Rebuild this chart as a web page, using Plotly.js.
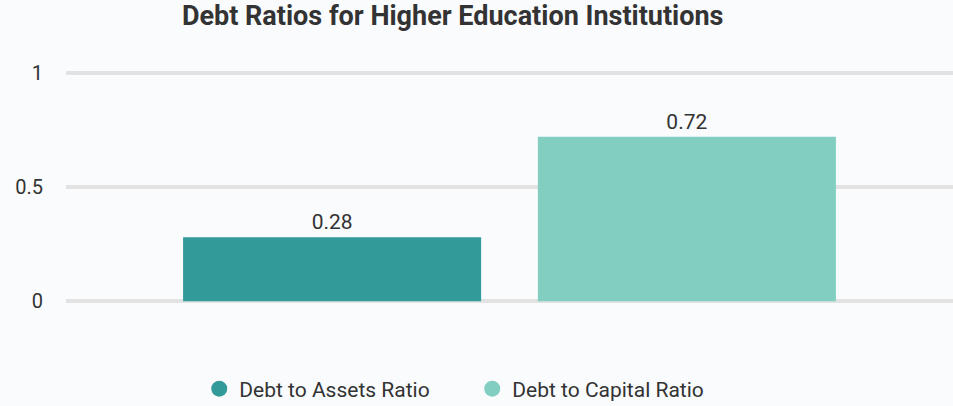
<!DOCTYPE html>
<html>
<head>
<meta charset="utf-8">
<script src="https://cdn.plot.ly/plotly-3.0.1.min.js"></script>
<style>
  body { margin: 0; background: #f9fbfd; }
  #chart { width: 953px; height: 406px; }
</style>
</head>
<body>
<div id="chart"></div>
<script>
// dados
const categorias = ["Institutions"];
const series = ["Debt to Assets Ratio", "Debt to Capital Ratio"];
const valores = [0.28, 0.72];
const cores = ["#339a9a", "#82cec1"];
const tickVals = [0, 0.5, 1];
const tickText = ["0", "0.5", "1"];

// barras (sem legenda, a legenda usa círculos)
const barras = series.map((nome, i) => ({
  type: "bar",
  x: categorias,
  y: [valores[i]],
  name: nome,
  marker: { color: cores[i] },
  text: [String(valores[i])],
  textposition: "outside",
  textfont: { family: "Roboto, sans-serif", size: 21, color: "#333333" },
  cliponaxis: false,
  showlegend: false,
  hoverinfo: "y+name"
}));

// entradas da legenda com marcador redondo
const legenda = series.map((nome, i) => ({
  type: "scatter",
  mode: "markers",
  x: [null],
  y: [null],
  name: nome,
  marker: { color: cores[i], size: 22, symbol: "circle" },
  showlegend: true
}));

const layout = {
  width: 953,
  height: 406,
  paper_bgcolor: "#f9fbfd",
  plot_bgcolor: "#f9fbfd",
  margin: { l: 66, r: 0, t: 66, b: 98, autoexpand: false },
  title: {
    text: "<b>Debt Ratios for Higher Education Institutions</b>",
    font: { family: "Roboto, sans-serif", size: 27, color: "#333333" },
    x: 0.475,
    xanchor: "center",
    y: 0.985,
    yanchor: "top"
  },
  barmode: "group",
  bargap: 0.2,
  bargroupgap: 0.16,
  xaxis: {
    showticklabels: false,
    showgrid: false,
    zeroline: false,
    showline: false
  },
  yaxis: {
    range: [-0.03, 1.03],
    tickvals: tickVals,
    ticktext: tickText,
    tickfont: { family: "Roboto, sans-serif", size: 20, color: "#333333" },
    ticklabelstandoff: 22,
    showgrid: true,
    gridcolor: "#e2e2e2",
    gridwidth: 4,
    zeroline: false,
    showline: false
  },
  showlegend: true,
  legend: {
    orientation: "h",
    x: 0.458,
    xanchor: "center",
    y: -0.25,
    yanchor: "top",
    font: { family: "Roboto, sans-serif", size: 21, color: "#333333" },
    itemwidth: 30,
    entrywidth: 228,
    entrywidthmode: "pixels"
  }
};

Plotly.newPlot("chart", [...barras, ...legenda], layout, { displayModeBar: false, staticPlot: true });
</script>
</body>
</html>
